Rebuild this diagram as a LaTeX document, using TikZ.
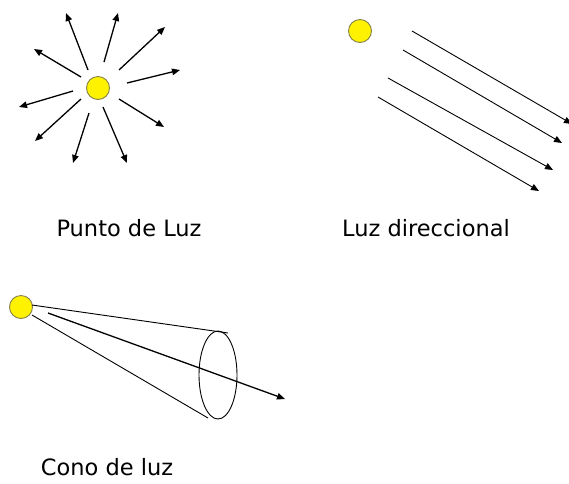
\documentclass[tikz,border=0pt]{standalone}
\usepackage{fontspec}
\setmainfont{DejaVu Sans}
\usetikzlibrary{arrows.meta}
\begin{document}
\begin{tikzpicture}[x=1pt,y=-1pt,
  sun/.style={circle,draw=black!55!yellow,fill=yellow,line width=0.9pt,minimum size=23pt,inner sep=0pt},
  ray/.style={line width=1.3pt,-{Triangle[length=8pt,width=6.5pt]}},
  thinray/.style={line width=0.9pt,-{Triangle[length=8pt,width=6.5pt]}},
  edge/.style={line width=0.9pt},
  lbl/.style={font=\fontsize{22.5}{26}\selectfont,inner sep=0pt}]
\useasboundingbox (0,0) rectangle (569,483);
% Punto de luz
\node[sun] (s1) at (98,88) {};
\foreach \i/\ax/\ay/\bx/\by in {1/88/70/66/13,2/104/62/118/13,3/119/70/165/27,4/127/83/180/70,5/119/99/164/127,6/103/107/127/163,7/89/113/73/163,8/81/99/35/141,9/73/91/19/107,10/81/77/34/49}{
  \coordinate (p\i a) at (\ax,\ay);
  \coordinate (p\i b) at (\bx,\by);
  \draw[ray] (p\i a) -- (p\i b);
}
\node[lbl] (l1) at (129,228) {Punto de Luz};
% Luz direccional
\node[sun] (s2) at (360,31) {};
\foreach \i/\ax/\ay/\bx/\by in {1/412/31/572/124,2/403/50/562/143,3/388/78/553/170,4/378/97/539/191}{
  \coordinate (d\i a) at (\ax,\ay);
  \coordinate (d\i b) at (\bx,\by);
  \draw[thinray] (d\i a) -- (d\i b);
}
\node[lbl] (l2) at (426,228) {Luz direccional};
% Cono de luz
\node[sun] (s3) at (21,307) {};
\coordinate (c1a) at (32,305);
\coordinate (c1b) at (228,333);
\coordinate (c2a) at (32,315);
\coordinate (c2b) at (208,418);
\coordinate (ce) at (218,375);
\coordinate (c3a) at (48,313);
\coordinate (c3b) at (285,399);
\draw[edge] (c1a) -- (c1b);
\draw[edge] (c2a) -- (c2b);
\draw[edge] (ce) ellipse [x radius=19, y radius=44];
\draw[ray] (c3a) -- (c3b);
\node[lbl] (l3) at (107,467) {Cono de luz};
\end{tikzpicture}
\end{document}
